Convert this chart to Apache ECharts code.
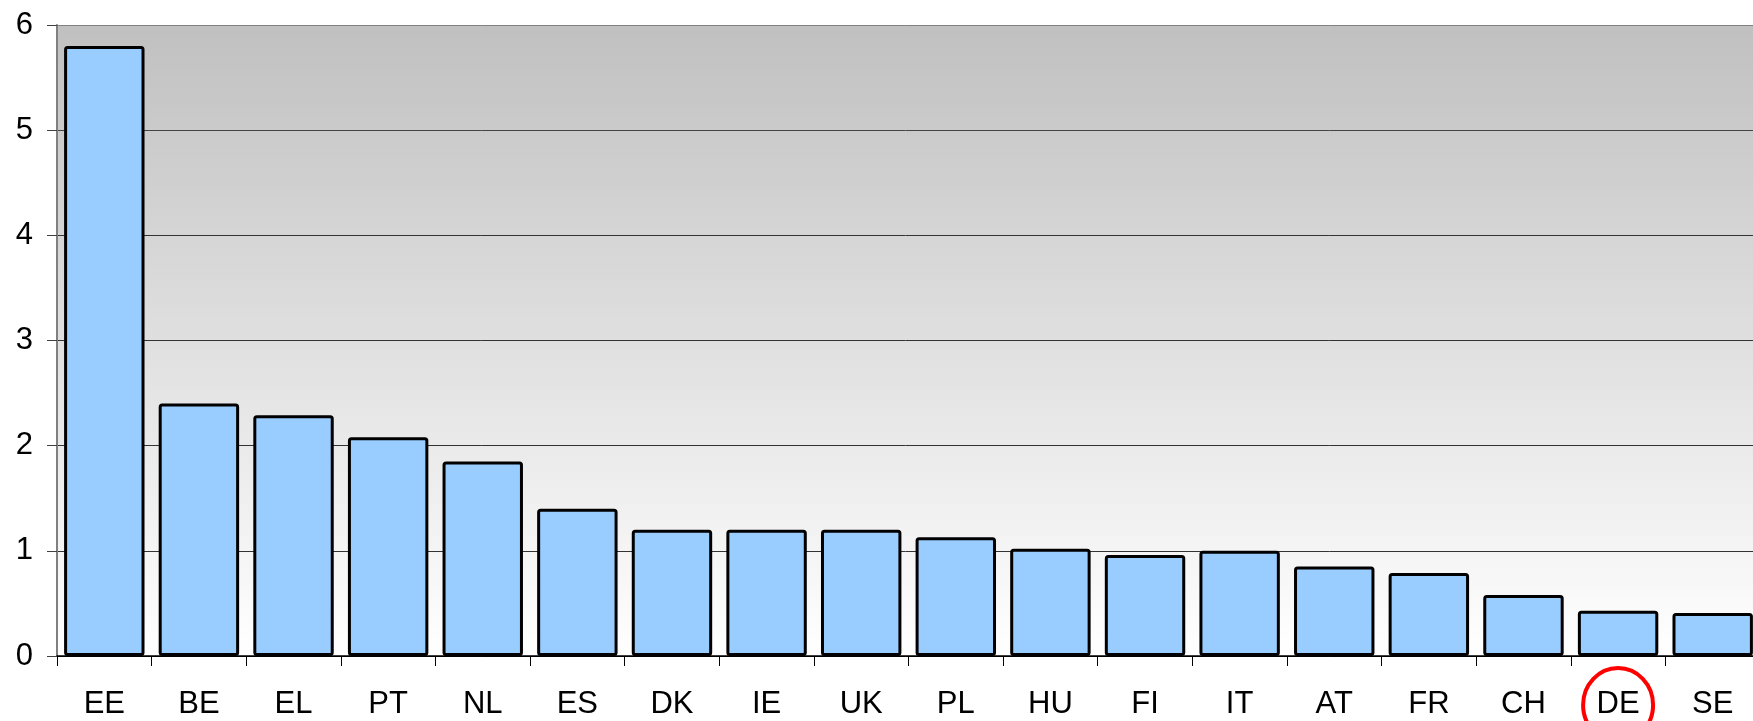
<!DOCTYPE html>
<html>
<head>
<meta charset="utf-8">
<script src="https://cdn.jsdelivr.net/npm/echarts@6/dist/echarts.min.js"></script>
<style>
  html, body { margin: 0; padding: 0; background: #ffffff; overflow: hidden; }
  #chart { width: 1753px; height: 721px; }
</style>
</head>
<body>
<div id="chart"></div>
<script>
// country codes along the x axis
var countries = ["EE", "BE", "EL", "PT", "NL", "ES", "DK", "IE", "UK", "PL",
                 "HU", "FI", "IT", "AT", "FR", "CH", "DE", "SE"];
// values
var values = [5.8, 2.4, 2.29, 2.08, 1.85, 1.4, 1.2, 1.2, 1.2, 1.13,
              1.02, 0.96, 1.0, 0.85, 0.79, 0.58, 0.43, 0.41];
// y axis ticks
var yMin = 0, yMax = 6, yStep = 1;
// the country circled in red
var highlighted = "DE";

var chartDom = document.getElementById("chart");
var myChart = echarts.init(chartDom);
var option;

option = {
  animation: false,
  grid: {
    left: 57,
    right: -7,
    top: 25,
    bottom: 65,
    outerBoundsMode: "none",
    show: true,
    borderWidth: 0,
    backgroundColor: new echarts.graphic.LinearGradient(0, 0, 0, 1, [
      { offset: 0, color: "#c0c0c0" },
      { offset: 1, color: "#ffffff" },
    ]),
  },
  xAxis: {
    type: "category",
    data: countries,
    axisLine: { lineStyle: { color: "#000000", width: 1.5 } },
    axisTick: { show: true, length: 10, inside: false, lineStyle: { color: "#000000" } },
    axisLabel: {
      margin: 33,
      color: "#000000",
      fontSize: 31,
      fontFamily: "Liberation Sans",
    },
  },
  yAxis: {
    type: "value",
    min: yMin,
    max: yMax,
    interval: yStep,
    axisLine: { show: true, lineStyle: { color: "#808080", width: 2 } },
    axisTick: { show: true, length: 10, lineStyle: { color: "#404040" } },
    axisLabel: {
      margin: 24,
      color: "#000000",
      fontSize: 31,
      fontFamily: "Liberation Sans",
    },
    splitLine: {
      show: true,
      lineStyle: {
        color: ["#000000", "#333333", "#333333", "#333333", "#333333", "#444444", "#808080"],
        width: 1,
      },
    },
  },
  series: [
    {
      type: "bar",
      data: values,
      barCategoryGap: "15%",
      itemStyle: {
        color: "#99ccff",
        borderColor: "#000000",
        borderWidth: 3,
        borderRadius: 2,
      },
    },
  ],
};

option && myChart.setOption(option);

// red ring round the highlighted label, placed from the axis scale
var cx = myChart.convertToPixel({ xAxisIndex: 0 }, highlighted);
var axisY = myChart.convertToPixel({ yAxisIndex: 0 }, 0);
myChart.setOption({
  graphic: [
    {
      type: "ellipse",
      shape: { cx: cx, cy: axisY + 49, rx: 35, ry: 37 },
      style: { fill: null, stroke: "#ff0000", lineWidth: 4 },
      z: 100,
    },
  ],
});
</script>
</body>
</html>
